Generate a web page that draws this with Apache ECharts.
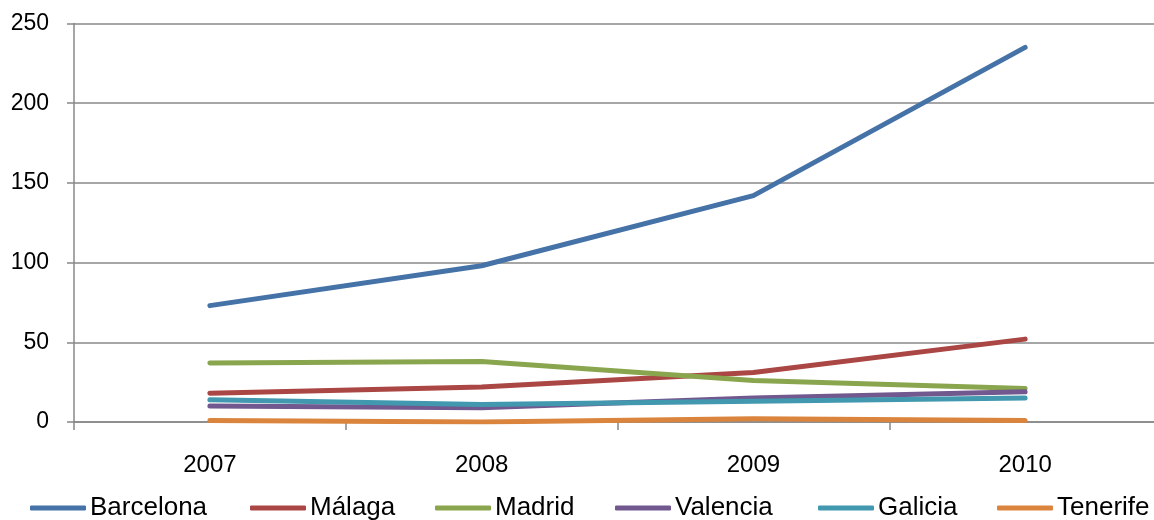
<!DOCTYPE html>
<html>
<head>
<meta charset="utf-8">
<script src="https://cdn.jsdelivr.net/npm/echarts@6/dist/echarts.min.js"></script>
<style>html,body{margin:0;padding:0;background:#fff;}#c{width:1154px;height:520px;}</style>
</head>
<body>
<div id="c"></div>
<script>
var categories = ['2007', '2008', '2009', '2010'];
var seriesNames = ['Barcelona', 'Málaga', 'Madrid', 'Valencia', 'Galicia', 'Tenerife'];
var barcelona = [73, 98, 142, 235];
var malaga = [18, 22, 31, 52];
var madrid = [37, 38, 26, 21];
var valencia = [10, 9, 15, 19];
var galicia = [14, 11, 13, 15];
var tenerife = [1, 0, 2, 1];
var yTicks = [0, 50, 100, 150, 200, 250];

var values = [barcelona, malaga, madrid, valencia, galicia, tenerife];
var colors = ['#4572A7', '#AA4643', '#89A54E', '#71588F', '#4198AF', '#DB843D'];
var legendLeft = [30, 250, 435, 615, 818, 997];
var font = "'Liberation Sans', Arial, sans-serif";

var chart = echarts.init(document.getElementById('c'), null, {renderer: 'canvas'});
var series = seriesNames.map(function (n, i) {
  return {
    name: n, type: 'line', data: values[i], showSymbol: false, symbol: 'none',
    lineStyle: {width: 5, color: colors[i], cap: 'round', join: 'round'},
    itemStyle: {color: colors[i]}
  };
});
var legends = seriesNames.map(function (n, i) {
  return {
    data: [n], left: legendLeft[i], top: 495, padding: 0,
    icon: 'roundRect', itemWidth: 56, itemHeight: 5,
    textStyle: {fontFamily: font, fontSize: 26, color: '#000', padding: [0, 0, 0, -1]},
    selectedMode: false
  };
});
chart.setOption({
  animation: false,
  backgroundColor: '#fff',
  color: colors,
  grid: {left: 74, top: 23.5, height: 398.5, width: 1087, containLabel: false, outerBoundsMode: 'none'},
  legend: legends,
  xAxis: {
    type: 'category', data: categories, boundaryGap: true,
    axisLine: {show: true, lineStyle: {color: '#888', width: 1.5}},
    axisTick: {show: true, length: 8, inside: false, lineStyle: {color: '#888', width: 1.5}},
    axisLabel: {fontFamily: font, fontSize: 24, color: '#000', margin: 31}
  },
  yAxis: {
    type: 'value', min: yTicks[0], max: yTicks[yTicks.length - 1], interval: 50,
    axisLine: {show: true, lineStyle: {color: '#888', width: 1.5}},
    axisTick: {show: true, length: 7, lineStyle: {color: '#888', width: 1.5}},
    axisLabel: {fontFamily: font, fontSize: 23, color: '#000', margin: 25},
    splitLine: {show: true, lineStyle: {color: '#888', width: 1.5}}
  },
  series: series
});
</script>
</body>
</html>
